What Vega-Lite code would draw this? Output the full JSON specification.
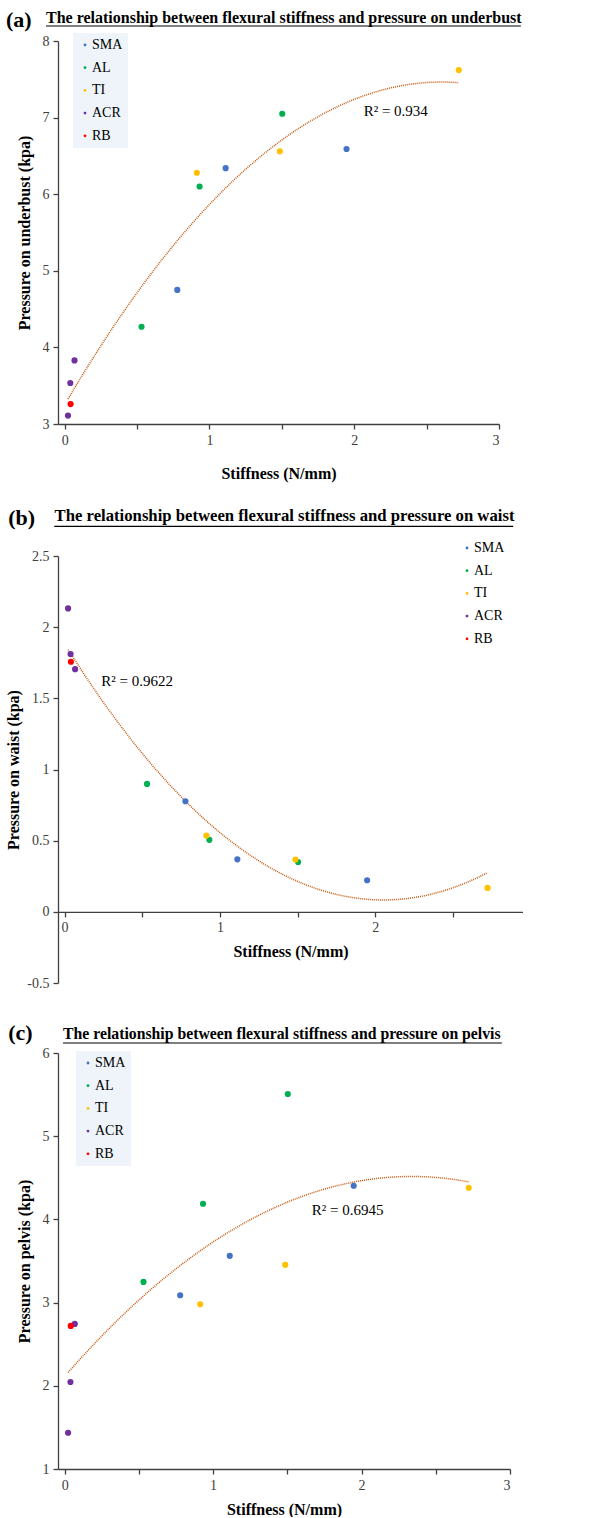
{
  "$schema": "https://vega.github.io/schema/vega-lite/v6.json",
  "padding": {"left": 5, "top": 8, "right": 0, "bottom": 0},
  "config": {
    "font": "Liberation Serif",
    "view": {"stroke": null},
    "axis": {
      "domainColor": "#404040", "tickColor": "#404040", "labelColor": "#404040",
      "labelFont": "Liberation Serif", "labelFontSize": 14,
      "titleFont": "Liberation Serif", "titleFontSize": 16, "titleFontWeight": "bold", "titleColor": "#000000",
      "grid": false, "tickSize": 5, "domainWidth": 1.3, "tickWidth": 1.3, "labelPadding": 4
    },
    "legend": {
      "labelFont": "Liberation Serif", "labelFontSize": 14, "labelColor": "#000000",
      "symbolType": "circle", "symbolSize": 8, "symbolStrokeWidth": 0,
      "rowPadding": 8.7, "padding": 5, "labelOffset": 0, "title": null
    },
    "text": {"font": "Liberation Serif", "color": "#000000"}
  },
  "datasets": {
    "underbust": [
      {"material": "SMA", "stiffness": 0.778, "pressure": 4.75},
      {"material": "SMA", "stiffness": 1.112, "pressure": 6.34},
      {"material": "SMA", "stiffness": 1.947, "pressure": 6.59},
      {"material": "AL", "stiffness": 0.531, "pressure": 4.27},
      {"material": "AL", "stiffness": 0.932, "pressure": 6.10},
      {"material": "AL", "stiffness": 1.503, "pressure": 7.05},
      {"material": "TI", "stiffness": 0.913, "pressure": 6.28},
      {"material": "TI", "stiffness": 1.486, "pressure": 6.56},
      {"material": "TI", "stiffness": 2.722, "pressure": 7.62},
      {"material": "ACR", "stiffness": 0.023, "pressure": 3.11},
      {"material": "ACR", "stiffness": 0.039, "pressure": 3.535},
      {"material": "ACR", "stiffness": 0.068, "pressure": 3.83},
      {"material": "RB", "stiffness": 0.041, "pressure": 3.26}
    ],
    "waist": [
      {"material": "SMA", "stiffness": 0.778, "pressure": 0.777},
      {"material": "SMA", "stiffness": 1.112, "pressure": 0.369},
      {"material": "SMA", "stiffness": 1.947, "pressure": 0.222},
      {"material": "AL", "stiffness": 0.531, "pressure": 0.899},
      {"material": "AL", "stiffness": 0.932, "pressure": 0.506},
      {"material": "AL", "stiffness": 1.503, "pressure": 0.350},
      {"material": "TI", "stiffness": 0.913, "pressure": 0.536},
      {"material": "TI", "stiffness": 1.486, "pressure": 0.367},
      {"material": "TI", "stiffness": 2.722, "pressure": 0.168},
      {"material": "ACR", "stiffness": 0.023, "pressure": 2.132},
      {"material": "ACR", "stiffness": 0.039, "pressure": 1.811},
      {"material": "ACR", "stiffness": 0.068, "pressure": 1.705},
      {"material": "RB", "stiffness": 0.041, "pressure": 1.757}
    ],
    "pelvis": [
      {"material": "SMA", "stiffness": 0.778, "pressure": 3.088},
      {"material": "SMA", "stiffness": 1.112, "pressure": 3.562},
      {"material": "SMA", "stiffness": 1.947, "pressure": 4.404},
      {"material": "AL", "stiffness": 0.531, "pressure": 3.249},
      {"material": "AL", "stiffness": 0.932, "pressure": 4.188},
      {"material": "AL", "stiffness": 1.503, "pressure": 5.507},
      {"material": "TI", "stiffness": 0.913, "pressure": 2.98},
      {"material": "TI", "stiffness": 1.486, "pressure": 3.454},
      {"material": "TI", "stiffness": 2.722, "pressure": 4.38},
      {"material": "ACR", "stiffness": 0.023, "pressure": 1.436},
      {"material": "ACR", "stiffness": 0.039, "pressure": 2.046},
      {"material": "ACR", "stiffness": 0.068, "pressure": 2.744},
      {"material": "RB", "stiffness": 0.041, "pressure": 2.72}
    ]
  },
  "resolve": {"scale": {"color": "independent", "x": "independent", "y": "independent"}, "legend": {"color": "independent"}},
  "spacing": 32,
  "vconcat": [
    {
      "resolve": {"scale": {"color": "independent", "x": "independent", "y": "independent"}, "legend": {"color": "independent"}},
      "spacing": 25,
      "vconcat": [
        {
          "width": 441, "height": 383,
          "data": {"name": "underbust"},
          "layer": [
            {"transform": [{"regression": "pressure", "on": "stiffness", "method": "poly", "order": 2}],
             "mark": {"type": "line", "color": "#C55A11", "strokeWidth": 1.5, "strokeDash": [1, 1]},
             "encoding": {
               "x": {"field": "stiffness", "type": "quantitative",
                     "scale": {"domain": [-0.046, 3], "nice": false, "zero": false},
                     "axis": {"title": "Stiffness (N/mm)", "values": [0, 0.5, 1, 1.5, 2, 2.5, 3],
                              "labelExpr": "datum.value % 1 === 0 ? format(datum.value, 'd') : ''", "titlePadding": 18}},
               "y": {"field": "pressure", "type": "quantitative",
                     "scale": {"domain": [3, 8], "nice": false, "zero": false},
                     "axis": {"title": "Pressure on underbust (kpa)", "values": [3, 4, 5, 6, 7, 8], "format": "d", "titlePadding": 10}}
             }},
            {"mark": {"type": "circle", "size": 38, "opacity": 1},
             "encoding": {
               "x": {"field": "stiffness", "type": "quantitative",
                     "scale": {"domain": [-0.046, 3], "nice": false, "zero": false},
                     "axis": {"title": "Stiffness (N/mm)", "values": [0, 0.5, 1, 1.5, 2, 2.5, 3],
                              "labelExpr": "datum.value % 1 === 0 ? format(datum.value, 'd') : ''", "titlePadding": 18}},
               "y": {"field": "pressure", "type": "quantitative",
                     "scale": {"domain": [3, 8], "nice": false, "zero": false},
                     "axis": {"title": "Pressure on underbust (kpa)", "values": [3, 4, 5, 6, 7, 8], "format": "d", "titlePadding": 10}},
               "color": {"field": "material", "type": "nominal",
               "scale": {"domain": ["SMA", "AL", "TI", "ACR", "RB"], "range": ["#4472C4", "#00B050", "#FFC000", "#7030A0", "#FF0000"]},
               "legend": {"orient": "none", "legendX": 15, "legendY": -8, "fillColor": "#EEF4FA"}}}},
            {"transform": [{"aggregate": [{"op": "count", "as": "n"}]}],
             "mark": {"type": "text", "text": "R² = 0.934", "align": "left", "baseline": "middle", "fontSize": 15},
             "encoding": {"x": {"datum": 2.065, "type": "quantitative"}, "y": {"datum": 7.08, "type": "quantitative"}}},
            {"transform": [{"aggregate": [{"op": "count", "as": "n"}]}],
             "mark": {"type": "text", "text": "(a)", "align": "left", "baseline": "alphabetic", "fontSize": 22, "fontWeight": "bold"},
             "encoding": {"x": {"datum": -0.405, "type": "quantitative"}, "y": {"datum": 8.183, "type": "quantitative"}}},
            {"transform": [{"aggregate": [{"op": "count", "as": "n"}]}],
             "mark": {"type": "text", "text": "The relationship between flexural stiffness and pressure on underbust", "align": "left", "baseline": "alphabetic", "fontSize": 16, "fontWeight": "bold"},
             "encoding": {"x": {"datum": -0.129, "type": "quantitative"}, "y": {"datum": 8.24, "type": "quantitative"}}},
            {"transform": [{"aggregate": [{"op": "count", "as": "n"}]}],
             "mark": {"type": "rule", "color": "#000000", "strokeWidth": 1.2},
             "encoding": {"x": {"datum": -0.129, "type": "quantitative"}, "x2": {"datum": 3.151}, "y": {"datum": 8.196, "type": "quantitative"}}}
          ]
        },
        {
          "width": 465, "height": 427,
          "data": {"name": "waist"},
          "layer": [
            {"transform": [{"regression": "pressure", "on": "stiffness", "method": "poly", "order": 2}],
             "mark": {"type": "line", "color": "#C55A11", "strokeWidth": 1.5, "strokeDash": [1, 1]},
             "encoding": {
               "x": {"field": "stiffness", "type": "quantitative",
                     "scale": {"domain": [-0.042, 2.95], "nice": false, "zero": false},
                     "axis": {"title": "Stiffness (N/mm)", "values": [0, 0.5, 1, 1.5, 2, 2.5], "offset": -71.1,
                              "labelExpr": "datum.value % 1 === 0 ? format(datum.value, 'd') : ''", "titlePadding": 9}},
               "y": {"field": "pressure", "type": "quantitative",
                     "scale": {"domain": [-0.5, 2.5], "nice": false, "zero": false},
                     "axis": {"title": "Pressure on waist (kpa)", "values": [-0.5, 0, 0.5, 1, 1.5, 2, 2.5],
                              "labelExpr": "replace(format(datum.value, ''), '\u2212', '-')", "titlePadding": 5}}
             }},
            {"mark": {"type": "circle", "size": 38, "opacity": 1},
             "encoding": {
               "x": {"field": "stiffness", "type": "quantitative",
                     "scale": {"domain": [-0.042, 2.95], "nice": false, "zero": false},
                     "axis": {"title": "Stiffness (N/mm)", "values": [0, 0.5, 1, 1.5, 2, 2.5], "offset": -71.1,
                              "labelExpr": "datum.value % 1 === 0 ? format(datum.value, 'd') : ''", "titlePadding": 9}},
               "y": {"field": "pressure", "type": "quantitative",
                     "scale": {"domain": [-0.5, 2.5], "nice": false, "zero": false},
                     "axis": {"title": "Pressure on waist (kpa)", "values": [-0.5, 0, 0.5, 1, 1.5, 2, 2.5],
                              "labelExpr": "replace(format(datum.value, ''), '\u2212', '-')", "titlePadding": 5}},
               "color": {"field": "material", "type": "nominal",
               "scale": {"domain": ["SMA", "AL", "TI", "ACR", "RB"], "range": ["#4472C4", "#00B050", "#FFC000", "#7030A0", "#FF0000"]},
               "legend": {"orient": "none", "legendX": 397, "legendY": -20}}}},
            {"transform": [{"aggregate": [{"op": "count", "as": "n"}]}],
             "mark": {"type": "text", "text": "R² = 0.9622", "align": "left", "baseline": "middle", "fontSize": 15},
             "encoding": {"x": {"datum": 0.236, "type": "quantitative"}, "y": {"datum": 1.619, "type": "quantitative"}}},
            {"transform": [{"aggregate": [{"op": "count", "as": "n"}]}],
             "mark": {"type": "text", "text": "(b)", "align": "left", "baseline": "alphabetic", "fontSize": 22, "fontWeight": "bold"},
             "encoding": {"x": {"datum": -0.362, "type": "quantitative"}, "y": {"datum": 2.718, "type": "quantitative"}}},
            {"transform": [{"aggregate": [{"op": "count", "as": "n"}]}],
             "mark": {"type": "text", "text": "The relationship between flexural stiffness and pressure on waist", "align": "left", "baseline": "alphabetic", "fontSize": 16.7, "fontWeight": "bold"},
             "encoding": {"x": {"datum": -0.064, "type": "quantitative"}, "y": {"datum": 2.746, "type": "quantitative"}}},
            {"transform": [{"aggregate": [{"op": "count", "as": "n"}]}],
             "mark": {"type": "rule", "color": "#000000", "strokeWidth": 1.2},
             "encoding": {"x": {"datum": -0.066, "type": "quantitative"}, "x2": {"datum": 2.887}, "y": {"datum": 2.708, "type": "quantitative"}}}
          ]
        }
      ]
    },
    {
      "width": 452, "height": 416,
      "data": {"name": "pelvis"},
      "layer": [
        {"transform": [{"regression": "pressure", "on": "stiffness", "method": "poly", "order": 2}],
         "mark": {"type": "line", "color": "#C55A11", "strokeWidth": 1.5, "strokeDash": [1, 1]},
         "encoding": {
           "x": {"field": "stiffness", "type": "quantitative",
                 "scale": {"domain": [-0.045, 3], "nice": false, "zero": false},
                 "axis": {"title": "Stiffness (N/mm)", "values": [0, 0.5, 1, 1.5, 2, 2.5, 3],
                          "labelExpr": "datum.value % 1 === 0 ? format(datum.value, 'd') : ''", "titlePadding": 9}},
           "y": {"field": "pressure", "type": "quantitative",
                 "scale": {"domain": [1, 6], "nice": false, "zero": false},
                 "axis": {"title": "Pressure on pelvis (kpa)", "values": [1, 2, 3, 4, 5, 6], "format": "d", "titlePadding": 10}}
         }},
        {"mark": {"type": "circle", "size": 38, "opacity": 1},
         "encoding": {
           "x": {"field": "stiffness", "type": "quantitative",
                 "scale": {"domain": [-0.045, 3], "nice": false, "zero": false},
                 "axis": {"title": "Stiffness (N/mm)", "values": [0, 0.5, 1, 1.5, 2, 2.5, 3],
                          "labelExpr": "datum.value % 1 === 0 ? format(datum.value, 'd') : ''", "titlePadding": 9}},
           "y": {"field": "pressure", "type": "quantitative",
                 "scale": {"domain": [1, 6], "nice": false, "zero": false},
                 "axis": {"title": "Pressure on pelvis (kpa)", "values": [1, 2, 3, 4, 5, 6], "format": "d", "titlePadding": 10}},
           "color": {"field": "material", "type": "nominal",
           "scale": {"domain": ["SMA", "AL", "TI", "ACR", "RB"], "range": ["#4472C4", "#00B050", "#FFC000", "#7030A0", "#FF0000"]},
           "legend": {"orient": "none", "legendX": 18, "legendY": -2, "fillColor": "#EEF4FA"}}}},
        {"transform": [{"aggregate": [{"op": "count", "as": "n"}]}],
         "mark": {"type": "text", "text": "R² = 0.6945", "align": "left", "baseline": "middle", "fontSize": 15},
         "encoding": {"x": {"datum": 1.664, "type": "quantitative"}, "y": {"datum": 4.107, "type": "quantitative"}}},
        {"transform": [{"aggregate": [{"op": "count", "as": "n"}]}],
         "mark": {"type": "text", "text": "(c)", "align": "left", "baseline": "alphabetic", "fontSize": 22, "fontWeight": "bold"},
         "encoding": {"x": {"datum": -0.38, "type": "quantitative"}, "y": {"datum": 6.153, "type": "quantitative"}}},
        {"transform": [{"aggregate": [{"op": "count", "as": "n"}]}],
         "mark": {"type": "text", "text": "The relationship between flexural stiffness and pressure on pelvis", "align": "left", "baseline": "alphabetic", "fontSize": 15.75, "fontWeight": "bold"},
         "encoding": {"x": {"datum": -0.011, "type": "quantitative"}, "y": {"datum": 6.173, "type": "quantitative"}}},
        {"transform": [{"aggregate": [{"op": "count", "as": "n"}]}],
         "mark": {"type": "rule", "color": "#000000", "strokeWidth": 1.2},
         "encoding": {"x": {"datum": -0.011, "type": "quantitative"}, "x2": {"datum": 2.945}, "y": {"datum": 6.12, "type": "quantitative"}}}
      ]
    }
  ]
}
